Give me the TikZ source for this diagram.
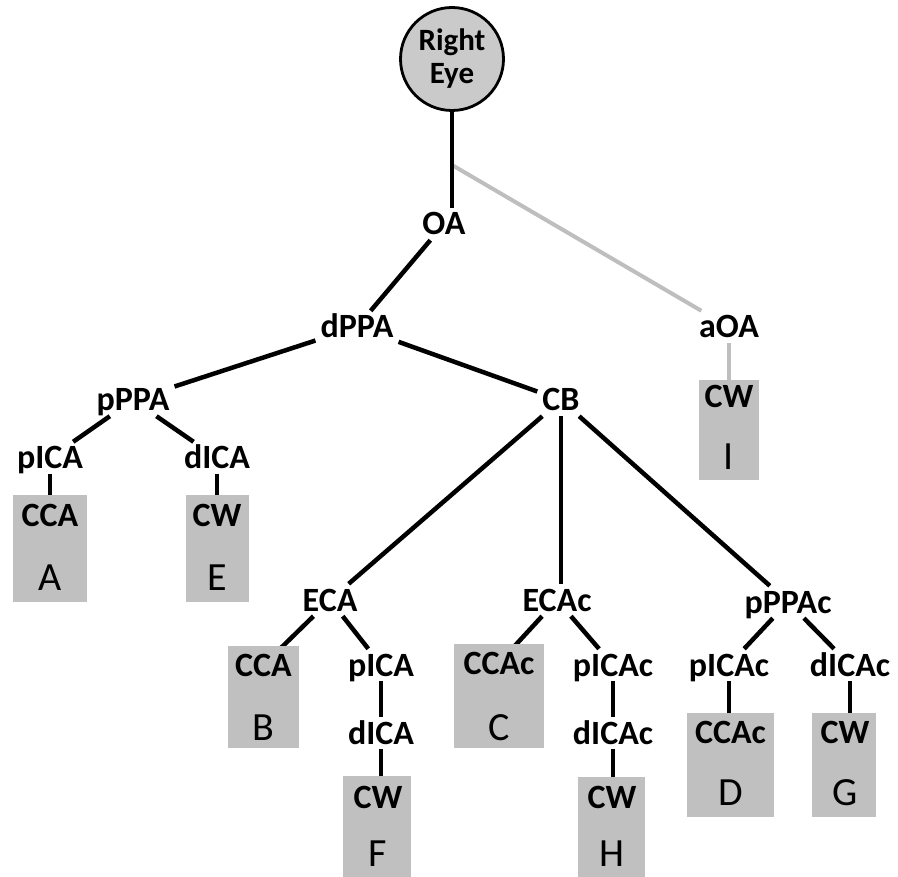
\documentclass[tikz,border=0pt]{standalone}
\usepackage{fontspec}
\setmainfont{Carlito}
\definecolor{boxgray}{RGB}{192,192,192}
\definecolor{circgray}{RGB}{202,202,202}
\definecolor{lgray}{RGB}{190,190,190}
\pgfdeclarelayer{lines}
\pgfdeclarelayer{boxes}
\pgfsetlayers{lines,boxes,main}
\tikzset{
  lbl/.style={font=\fontsize{34}{40}\selectfont\bfseries, text height=22pt, text depth=0pt, inner sep=5pt},
  letter/.style={font=\fontsize{40}{44}\selectfont, text height=26pt, text depth=0pt, inner sep=0pt},
  box/.style={fill=boxgray, inner sep=0pt},
  conn/.style={line width=4.5pt},
  gconn/.style={line width=4pt, draw=lgray},
}
\begin{document}
\begin{tikzpicture}[x=1pt,y=-1pt]
\useasboundingbox (0,0) rectangle (898,877);
% boxes
\begin{pgfonlayer}{boxes}
\node[box, minimum width=60pt, minimum height=100pt] (bI) at (729,430) {};
\node[box, minimum width=74pt, minimum height=107pt] (bA) at (50,548.5) {};
\node[box, minimum width=63pt, minimum height=107pt] (bE) at (217,548.5) {};
\node[box, minimum width=71pt, minimum height=102pt] (bB) at (263.5,697) {};
\node[box, minimum width=68pt, minimum height=101pt] (bF) at (377,826.5) {};
\node[box, minimum width=90pt, minimum height=104pt] (bC) at (499,696) {};
\node[box, minimum width=67pt, minimum height=100pt] (bH) at (611.5,827) {};
\node[box, minimum width=87pt, minimum height=104pt] (bD) at (730.5,765) {};
\node[box, minimum width=64pt, minimum height=104pt] (bG) at (844,765) {};
\end{pgfonlayer}
% eye
\node[circle, draw=black, line width=2.8pt, fill=circgray, minimum size=103pt, inner sep=0pt,
      align=center, font=\fontsize{31}{33}\selectfont\bfseries] (eye) at (452,59) {Right\\Eye};
% labels
\node[lbl] (OA) at (444,224) {OA};
\node[lbl] (dPPA) at (357,327) {dPPA};
\node[lbl] (pPPA) at (133,400) {pPPA};
\node[lbl] (CB) at (561,400) {CB};
\node[lbl] (aOA) at (729,327) {aOA};
\node[lbl] (cwI) at (729,397) {CW};
\node[letter] (lI) at (729,457) {I};
\node[lbl] (pICAa) at (50,458) {pICA};
\node[lbl] (dICAa) at (217,458) {dICA};
\node[lbl] (ccaA) at (50,515) {CCA};
\node[letter] (lA) at (50,577) {A};
\node[lbl] (cwE) at (217,515) {CW};
\node[letter] (lE) at (217,577) {E};
\node[lbl] (ECA) at (330,600) {ECA};
\node[lbl] (ECAc) at (557,600) {ECAc};
\node[lbl] (pPPAc) at (788,602) {pPPAc};
\node[lbl] (ccaB) at (263.5,665) {CCA};
\node[letter] (lB) at (263.5,727) {B};
\node[lbl] (pICAb) at (381,665) {pICA};
\node[lbl] (dICAb) at (381,733) {dICA};
\node[lbl] (cwF) at (378,797) {CW};
\node[letter] (lF) at (378,853) {F};
\node[lbl] (ccacC) at (499,663) {CCAc};
\node[letter] (lC) at (499,727) {C};
\node[lbl] (pICAcb) at (613,665) {pICAc};
\node[lbl] (dICAcb) at (613,733) {dICAc};
\node[lbl] (cwH) at (612,797) {CW};
\node[letter] (lH) at (612,853) {H};
\node[lbl] (pICAcd) at (729,665) {pICAc};
\node[lbl] (ccacD) at (730.5,732) {CCAc};
\node[letter] (lD) at (730.5,792) {D};
\node[lbl] (dICAcg) at (850,665) {dICAc};
\node[lbl] (cwG) at (845,732) {CW};
\node[letter] (lG) at (845,792) {G};
\coordinate (br) at (452,165);
% connectors
\begin{pgfonlayer}{lines}
\draw[gconn] (br) -- (aOA);
\draw[gconn] (aOA) -- (aOA |- bI.north);
\draw[conn] (eye) -- (eye |- OA.north);
\draw[conn] (OA) -- (dPPA);
\draw[conn] (dPPA) -- (pPPA);
\draw[conn] (dPPA) -- (CB);
\draw[conn] (pPPA) -- (pICAa);
\draw[conn] (pPPA) -- (dICAa);
\draw[conn] (pICAa) -- (pICAa |- bA.north);
\draw[conn] (dICAa) -- (dICAa |- bE.north);
\draw[conn] (CB) -- (ECA);
\draw[conn] (CB) -- (CB |- ECAc.north);
\draw[conn] (CB) -- (pPPAc);
\draw[conn] (ECA) -- (ccaB);
\draw[conn] (ECA) -- (pICAb);
\draw[conn] (pICAb) -- (dICAb);
\draw[conn] (dICAb) -- (dICAb |- bF.north);
\draw[conn] (ECAc) -- (ccacC);
\draw[conn] (ECAc) -- (pICAcb);
\draw[conn] (pICAcb) -- (dICAcb);
\draw[conn] (dICAcb) -- (dICAcb |- bH.north);
\draw[conn] (pPPAc) -- (pICAcd);
\draw[conn] (pPPAc) -- (dICAcg);
\draw[conn] (pICAcd) -- (pICAcd |- bD.north);
\draw[conn] (dICAcg) -- (dICAcg |- bG.north);
\end{pgfonlayer}
\end{tikzpicture}
\end{document}
